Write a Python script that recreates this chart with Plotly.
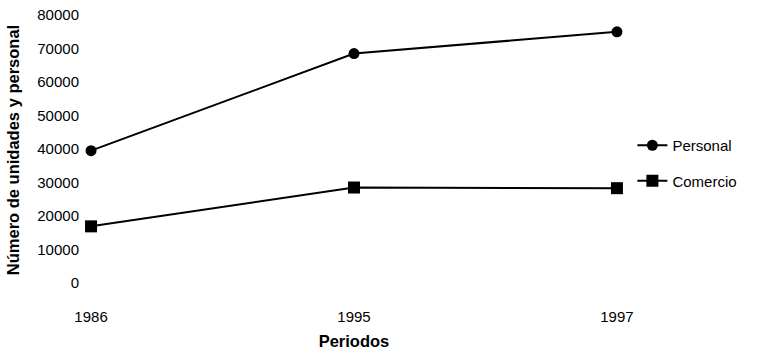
import plotly.graph_objects as go

# Periods and series values
periodos = ["1986", "1995", "1997"]
personal = [39500, 68500, 75000]
comercio = [16900, 28500, 28300]

y_ticks = [0, 10000, 20000, 30000, 40000, 50000, 60000, 70000, 80000]

font_family = "Liberation Sans, Arial, sans-serif"

fig = go.Figure()

fig.add_trace(go.Scatter(
    x=periodos, y=personal, name="Personal",
    mode="lines+markers",
    line=dict(color="black", width=2),
    marker=dict(symbol="circle", size=11, color="black"),
    legendgroup="p",
))
fig.add_trace(go.Scatter(
    x=periodos, y=comercio, name="Comercio",
    mode="lines+markers",
    line=dict(color="black", width=2),
    marker=dict(symbol="square", size=12, color="black"),
    legendgroup="c",
))

fig.update_layout(
    width=779, height=351,
    margin=dict(l=80, r=151, t=10, b=61),
    paper_bgcolor="white", plot_bgcolor="white",
    font=dict(family=font_family, size=15, color="black"),
    showlegend=True,
    legend=dict(
        x=1.008, y=0.575, xanchor="left", yanchor="top",
        font=dict(size=15, color="black"),
        tracegroupgap=13,
        bgcolor="rgba(0,0,0,0)",
    ),
    xaxis=dict(
        type="category",
        range=[-0.042, 2.042],
        automargin=False,
        showgrid=False, zeroline=False, showline=False,
        ticks="", ticklabelstandoff=16,
        tickfont=dict(size=15),
        title=dict(text="<b>Periodos</b>", font=dict(size=16.5), standoff=11),
    ),
    yaxis=dict(
        range=[-2100, 81500],
        automargin=False,
        tickvals=y_ticks,
        ticktext=[str(v) for v in y_ticks],
        showgrid=False, zeroline=False, showline=False,
        ticks="",
        tickfont=dict(size=15),
        title=dict(text="<b>Número de unidades y personal</b>", font=dict(size=16.5), standoff=13),
    ),
)

fig.write_html("out.html")
